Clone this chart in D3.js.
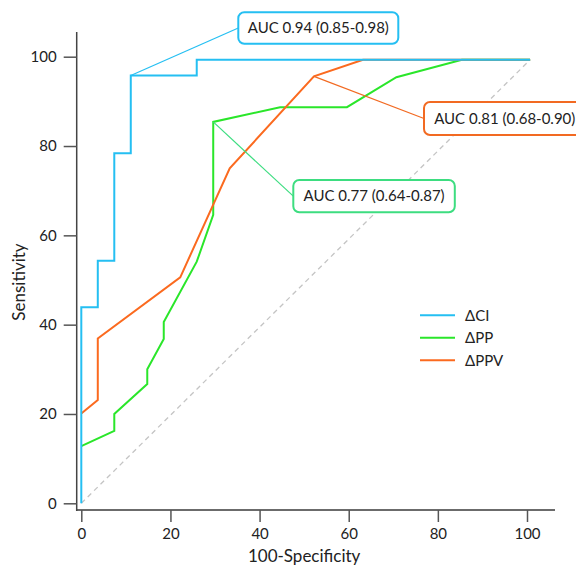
<!DOCTYPE html>
<html>
<head>
<meta charset="utf-8">
<script src="https://cdn.jsdelivr.net/npm/d3@7"></script>
<style>
  html, body { margin: 0; padding: 0; background: #fff; }
  svg { display: block; font-family: Lato, 'Open Sans', sans-serif; }
</style>
</head>
<body>
<svg id="chart" width="576" height="565"></svg>
<script>
// ROC curves: 100-specificity (x) vs sensitivity (y)
const ciX = [0, 0, 3.7, 3.7, 7.4, 7.4, 11.1, 11.1, 25.9, 25.9, 100.7];
const ciY = [0, 43.9, 43.9, 54.3, 54.3, 78.4, 78.4, 95.8, 95.8, 99.3, 99.3];

const ppX = [0, 7.4, 7.4, 14.8, 14.8, 18.5, 18.5, 25.9, 29.6, 29.6, 44.6, 59.6, 70.7, 85.4, 100.7];
const ppY = [12.8, 16.2, 20.0, 26.7, 30.0, 36.8, 40.6, 54.1, 64.6, 85.4, 88.7, 88.7, 95.4, 99.3, 99.3];

const ppvX = [0, 3.7, 3.7, 22.2, 33.3, 52.2, 63.2, 100.7];
const ppvY = [20.1, 23.1, 36.9, 50.6, 75.0, 95.6, 99.3, 99.3];

const refX = [0, 100.7];
const refY = [0, 99.3];

const seriesNames = ['ΔCI', 'ΔPP', 'ΔPPV'];
const aucLabels = ['AUC 0.94 (0.85-0.98)', 'AUC 0.77 (0.64-0.87)', 'AUC 0.81 (0.68-0.90)'];
// point on each curve that the label points to
const anchorX = [11.1, 29.6, 52.2];
const anchorY = [95.8, 85.4, 95.6];

const xTicks = [0, 20, 40, 60, 80, 100];
const yTicks = [0, 20, 40, 60, 80, 100];

const colors = ['#25bff2', '#2ae62a', '#fb6a1f'];
const boxColors = ['#25bff2', '#3ddd80', '#f26a22'];

const svg = d3.select('#chart');

let x = d3.scaleLinear().domain([0, 100]).range([81.3, 527]);
let y = d3.scaleLinear().domain([0, 100]).range([503.3, 56.7]);

const axisY0 = 510;
const axisX0 = 76.7;

// axis frame lines
svg.append('line')
  .attr('x1', axisX0).attr('x2', 555)
  .attr('y1', axisY0).attr('y2', axisY0)
  .attr('stroke', '#6b6b6b').attr('stroke-width', 2);
svg.append('line')
  .attr('x1', axisX0).attr('x2', axisX0)
  .attr('y1', 32).attr('y2', axisY0 + 1)
  .attr('stroke', '#444').attr('stroke-width', 1.5);

let xAxis = svg.append('g')
  .attr('transform', `translate(0,${axisY0})`)
  .call(d3.axisBottom(x).tickValues(xTicks).tickSize(12).tickPadding(6));
xAxis.select('.domain').remove();

let yAxis = svg.append('g')
  .attr('transform', `translate(${axisX0},0)`)
  .call(d3.axisLeft(y).tickValues(yTicks).tickSize(13).tickPadding(7));
yAxis.select('.domain').remove();

svg.selectAll('.tick line').attr('stroke', '#555').attr('stroke-width', 1.5);
svg.selectAll('.tick text')
  .attr('fill', '#222')
  .style('font-size', '15px')
  .style('font-family', 'Lato, sans-serif');

// axis titles
svg.append('text')
  .attr('x', (x(0) + x(100)) / 2)
  .attr('y', 562)
  .attr('text-anchor', 'middle')
  .attr('fill', '#222')
  .style('font-size', '17px')
  .text('100-Specificity');

svg.append('text')
  .attr('transform', `translate(25,${(y(0) + y(100)) / 2 + 2}) rotate(-90)`)
  .attr('text-anchor', 'middle')
  .attr('fill', '#222')
  .style('font-size', '17px')
  .text('Sensitivity');

// reference diagonal
let line = d3.line().x((d) => x(d[0])).y((d) => y(d[1]));
svg.append('path')
  .attr('d', line(d3.zip(refX, refY)))
  .attr('fill', 'none')
  .attr('stroke', '#c4c4c4')
  .attr('stroke-width', 1.3)
  .attr('stroke-dasharray', '5,4');

// curves (drawn orange last like the reference)
const curves = [d3.zip(ciX, ciY), d3.zip(ppX, ppY), d3.zip(ppvX, ppvY)];
[1, 2, 0].forEach((i) => {
  svg.append('path')
    .attr('d', line(curves[i]))
    .attr('fill', 'none')
    .attr('stroke', colors[i])
    .attr('stroke-width', 2)
    .attr('stroke-linejoin', 'miter');
});

// AUC callouts
const boxes = [
  { x: 238.3, y: 12.3, w: 160, h: 31.4 },
  { x: 293.3, y: 180, w: 161.5, h: 32.3 },
  { x: 424, y: 102, w: 161.5, h: 33 },
];

boxes.forEach((b, i) => {
  svg.append('line')
    .attr('x1', x(anchorX[i])).attr('y1', y(anchorY[i]))
    .attr('x2', b.x).attr('y2', b.y + b.h / 2)
    .attr('stroke', boxColors[i])
    .attr('stroke-width', 1.2);
  svg.append('rect')
    .attr('x', b.x).attr('y', b.y)
    .attr('width', b.w).attr('height', b.h)
    .attr('rx', 6)
    .attr('fill', '#fff')
    .attr('stroke', boxColors[i])
    .attr('stroke-width', 2);
  svg.append('text')
    .attr('x', b.x + b.w / 2)
    .attr('y', b.y + b.h / 2)
    .attr('dy', '0.35em')
    .attr('text-anchor', 'middle')
    .attr('fill', '#222')
    .style('font-size', '15px')
    .text(aucLabels[i]);
});

// legend
let legend = svg.append('g');
seriesNames.forEach((name, i) => {
  let ly = 315.3 + i * 22.5;
  legend.append('line')
    .attr('x1', 420).attr('x2', 455)
    .attr('y1', ly).attr('y2', ly)
    .attr('stroke', colors[i])
    .attr('stroke-width', 2);
  legend.append('text')
    .attr('x', 465)
    .attr('y', ly)
    .attr('dy', '0.35em')
    .attr('fill', '#222')
    .style('font-size', '15px')
    .text(name);
});
</script>
</body>
</html>
